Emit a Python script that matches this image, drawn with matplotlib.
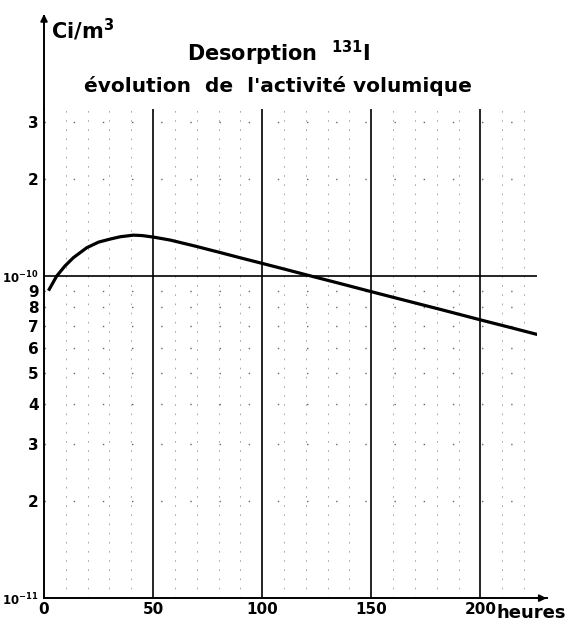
import matplotlib
matplotlib.use("Agg")
from matplotlib import pyplot as plt
import numpy as np

# Activity curve (hours, Ci/m3)
hours = [2.4, 5.8, 9.6, 13.4, 19.6, 25, 30.3, 35, 41, 45, 50, 57.8, 69.3, 80,
         89.9, 99.8, 110, 120.5, 135.8, 151, 166, 181.7, 201.5, 215, 226]
activity = [0.91e-10, 1.00e-10, 1.075e-10, 1.14e-10, 1.225e-10, 1.275e-10, 1.303e-10,
            1.325e-10, 1.34e-10, 1.336e-10, 1.322e-10, 1.294e-10, 1.239e-10, 1.187e-10,
            1.140e-10, 1.096e-10, 1.052e-10, 1.008e-10, 0.948e-10, 0.891e-10, 0.839e-10,
            0.788e-10, 0.727e-10, 0.689e-10, 0.659e-10]

x_ticks = [0, 50, 100, 150, 200]
y_ticks = [1e-11, 2e-11, 3e-11, 4e-11, 5e-11, 6e-11, 7e-11, 8e-11, 9e-11,
           1e-10, 2e-10, 3e-10]
y_labels = [r"$\mathbf{10^{-11}}$", "2", "3", "4", "5", "6", "7", "8", "9",
            r"$\mathbf{10^{-10}}$", "2", "3"]
major_x = [50, 100, 150, 200]
minor_x = [10, 20, 30, 40, 60, 70, 80, 90, 110, 120, 130, 140, 160, 170, 180, 190, 210, 220]

plt.rcParams['font.family'] = ['DejaVu Sans']

fig = plt.figure(figsize=(5.68, 6.27), dpi=100)
ax = fig.add_axes([0.0775, 0.046, 0.868, 0.780])
ax.set_yscale('log')
ax.set_xlim(0, 226)
ax.set_ylim(1e-11, 3.3e-10)

# minor grid: sparse dotted lines
for xv in minor_x:
    ax.axvline(xv, color='0.6', lw=0.6, ls=(0, (2, 9)), zorder=1)
for yv in y_ticks[1:9] + y_ticks[10:]:
    ax.axhline(yv, color='0.4', lw=1.0, ls=(0, (1, 20)), zorder=1)

# major grid
for xv in major_x:
    ax.axvline(xv, color='black', lw=1.2, zorder=2)
ax.axhline(1e-10, color='black', lw=1.2, zorder=2)

ax.plot(hours, activity, color='black', lw=2.3, zorder=3)

for s in ['top', 'right']:
    ax.spines[s].set_visible(False)
for s in ['left', 'bottom']:
    ax.spines[s].set_linewidth(1.4)

ax.set_xticks(x_ticks)
ax.set_xticklabels([str(v) for v in x_ticks], fontsize=11, fontweight='bold')
ax.set_yticks(y_ticks)
ax.set_yticklabels(y_labels, fontsize=11, fontweight='bold')
for lab in ax.get_yticklabels():
    if '10' in lab.get_text():
        lab.set_fontsize(8.5)
ax.yaxis.set_minor_locator(matplotlib.ticker.NullLocator())
ax.tick_params(axis='both', length=0)
ax.tick_params(axis='y', pad=4)
ax.tick_params(axis='x', pad=3)

# axis arrows
ax.plot([1.0, 1.02], [0, 0], transform=ax.transAxes, color='black', lw=1.4, clip_on=False)
ax.annotate('', xy=(1.025, 0), xytext=(1.0, 0), xycoords='axes fraction',
            arrowprops=dict(arrowstyle='-|>', color='black', lw=1.4), annotation_clip=False)
ax.plot([0, 0], [1.0, 1.19], transform=ax.transAxes, color='black', lw=1.4, clip_on=False)
ax.annotate('', xy=(0, 1.2), xytext=(0, 1.17), xycoords='axes fraction',
            arrowprops=dict(arrowstyle='-|>', color='black', lw=1.4), annotation_clip=False)

fig.text(0.09, 0.953, r"Ci/m$\mathbf{^3}$", fontsize=15, fontweight='bold', va='center')
fig.text(0.49, 0.915, r"Desorption  $\mathbf{^{131}}$I", fontsize=15, fontweight='bold',
         ha='center', va='center')
fig.text(0.49, 0.863, "évolution  de  l'activité volumique", fontsize=14.5, fontweight='bold',
         ha='center', va='center')
fig.text(0.997, 0.022, "heures", fontsize=13, fontweight='bold', ha='right', va='center')

fig.savefig("out.png", dpi=100)
